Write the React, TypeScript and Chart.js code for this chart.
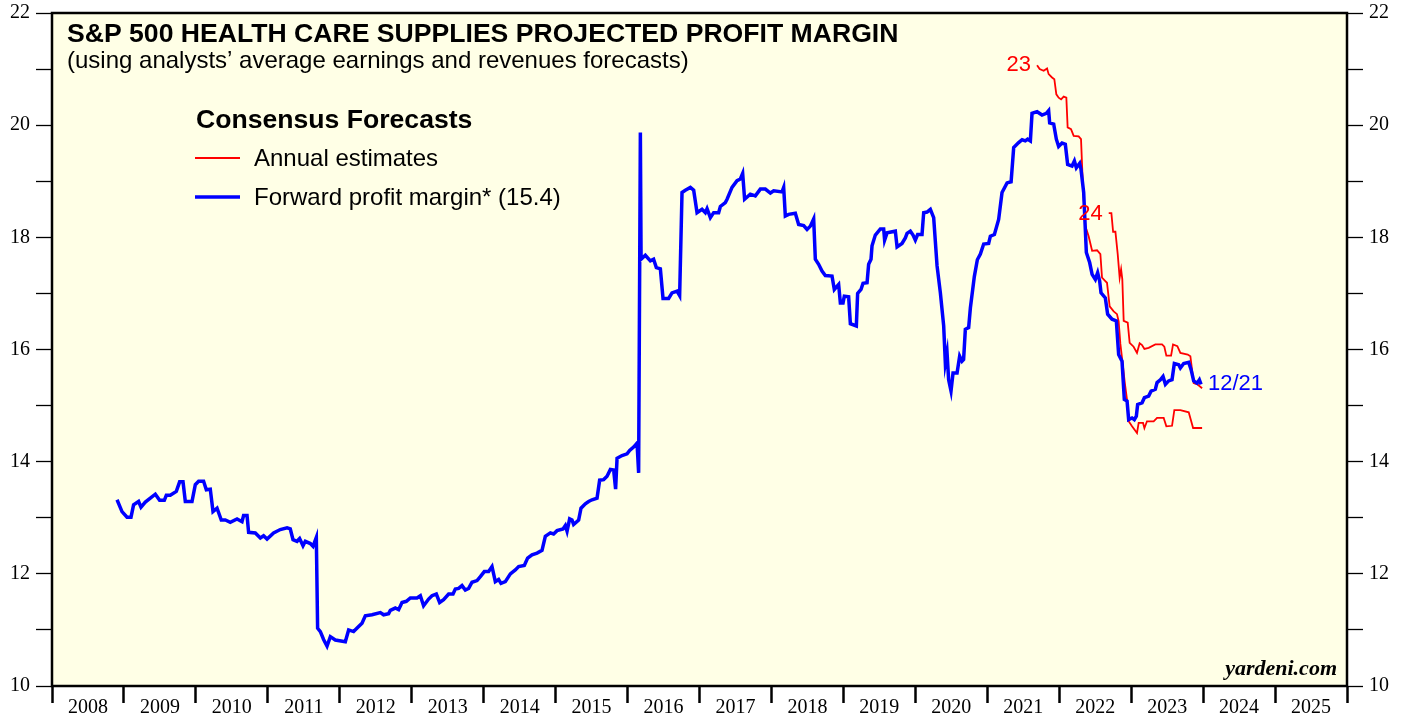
import React, { useEffect, useRef } from 'react';
import { Chart, registerables } from 'chart.js';

Chart.register(...registerables);

// Forward profit margin (weekly consensus), decimal years
const fwdDates = [2008.904, 2008.973, 2009.043, 2009.098, 2009.134, 2009.204, 2009.237, 2009.297, 2009.436, 2009.496,
  2009.561, 2009.589, 2009.644, 2009.728, 2009.774, 2009.821, 2009.853, 2009.946, 2009.992, 2010.038,
  2010.107, 2010.145, 2010.200, 2010.238, 2010.294, 2010.353, 2010.409, 2010.478, 2010.572, 2010.641,
  2010.663, 2010.711, 2010.733, 2010.826, 2010.896, 2010.941, 2010.989, 2011.080, 2011.173, 2011.267,
  2011.312, 2011.350, 2011.406, 2011.442, 2011.489, 2011.521, 2011.591, 2011.628, 2011.674, 2011.692,
  2011.730, 2011.775, 2011.823, 2011.869, 2011.938, 2012.077, 2012.123, 2012.192, 2012.262, 2012.309,
  2012.355, 2012.448, 2012.564, 2012.609, 2012.679, 2012.703, 2012.772, 2012.818, 2012.865, 2012.925,
  2012.981, 2013.074, 2013.120, 2013.165, 2013.235, 2013.282, 2013.342, 2013.388, 2013.443, 2013.513,
  2013.574, 2013.606, 2013.652, 2013.699, 2013.745, 2013.791, 2013.838, 2013.908, 2013.954, 2014.009,
  2014.069, 2014.116, 2014.162, 2014.208, 2014.241, 2014.301, 2014.371, 2014.440, 2014.486, 2014.565,
  2014.611, 2014.672, 2014.742, 2014.811, 2014.857, 2014.927, 2014.972, 2015.020, 2015.103, 2015.135,
  2015.159, 2015.195, 2015.228, 2015.250, 2015.320, 2015.353, 2015.413, 2015.459, 2015.506, 2015.576,
  2015.612, 2015.668, 2015.715, 2015.761, 2015.807, 2015.834, 2015.854, 2015.923, 2015.993, 2016.029,
  2016.084, 2016.132, 2016.154, 2016.178, 2016.188, 2016.247, 2016.317, 2016.362, 2016.400, 2016.456,
  2016.493, 2016.571, 2016.618, 2016.688, 2016.724, 2016.757, 2016.803, 2016.873, 2016.919, 2016.966,
  2017.035, 2017.081, 2017.105, 2017.151, 2017.197, 2017.266, 2017.290, 2017.359, 2017.383, 2017.452,
  2017.522, 2017.568, 2017.600, 2017.627, 2017.706, 2017.776, 2017.846, 2017.915, 2017.985, 2018.031,
  2018.147, 2018.170, 2018.193, 2018.239, 2018.332, 2018.378, 2018.448, 2018.495, 2018.541, 2018.587,
  2018.610, 2018.656, 2018.703, 2018.749, 2018.842, 2018.874, 2018.934, 2018.958, 2018.995, 2019.013,
  2019.073, 2019.097, 2019.180, 2019.198, 2019.245, 2019.273, 2019.329, 2019.351, 2019.384, 2019.398,
  2019.444, 2019.514, 2019.560, 2019.573, 2019.607, 2019.722, 2019.746, 2019.815, 2019.861, 2019.885,
  2019.931, 2019.968, 2020.000, 2020.032, 2020.093, 2020.116, 2020.163, 2020.209, 2020.255, 2020.302,
  2020.348, 2020.394, 2020.417, 2020.441, 2020.463, 2020.496, 2020.524, 2020.580, 2020.616, 2020.649,
  2020.671, 2020.695, 2020.741, 2020.765, 2020.820, 2020.862, 2020.904, 2020.950, 2021.019, 2021.043,
  2021.099, 2021.158, 2021.205, 2021.275, 2021.331, 2021.367, 2021.436, 2021.484, 2021.529, 2021.561,
  2021.599, 2021.622, 2021.692, 2021.761, 2021.821, 2021.853, 2021.867, 2021.923, 2021.960, 2021.992,
  2022.039, 2022.085, 2022.117, 2022.178, 2022.211, 2022.238, 2022.284, 2022.303, 2022.340, 2022.377,
  2022.423, 2022.457, 2022.502, 2022.534, 2022.562, 2022.581, 2022.641, 2022.673, 2022.734, 2022.794,
  2022.826, 2022.873, 2022.905, 2022.943, 2022.965, 2023.012, 2023.044, 2023.072, 2023.090, 2023.151,
  2023.184, 2023.243, 2023.277, 2023.336, 2023.360, 2023.406, 2023.443, 2023.476, 2023.521, 2023.568,
  2023.600, 2023.660, 2023.684, 2023.730, 2023.800, 2023.833, 2023.869, 2023.916, 2023.948, 2023.971];

const fwdValues = [13.32, 13.11, 13.01, 13.01, 13.23, 13.29, 13.19, 13.28, 13.42, 13.31,
  13.31, 13.40, 13.40, 13.47, 13.64, 13.64, 13.29, 13.29, 13.59, 13.65,
  13.65, 13.50, 13.51, 13.11, 13.17, 12.96, 12.96, 12.92, 12.98, 12.93,
  13.04, 13.04, 12.74, 12.73, 12.64, 12.68, 12.62, 12.73, 12.79, 12.82,
  12.80, 12.61, 12.58, 12.63, 12.50, 12.58, 12.54, 12.49, 12.65, 11.03,
  10.97, 10.83, 10.71, 10.88, 10.82, 10.79, 11.00, 10.97, 11.06, 11.12,
  11.25, 11.27, 11.31, 11.27, 11.29, 11.35, 11.39, 11.36, 11.49, 11.51,
  11.57, 11.57, 11.61, 11.43, 11.55, 11.61, 11.64, 11.49, 11.54, 11.64,
  11.64, 11.73, 11.74, 11.79, 11.71, 11.74, 11.85, 11.88, 11.95, 12.04,
  12.04, 12.13, 11.86, 11.90, 11.83, 11.86, 12.00, 12.07, 12.13, 12.15,
  12.28, 12.34, 12.37, 12.42, 12.67, 12.73, 12.71, 12.77, 12.80, 12.86,
  12.76, 12.98, 12.96, 12.88, 12.96, 13.17, 13.25, 13.29, 13.32, 13.35,
  13.67, 13.68, 13.74, 13.86, 13.85, 13.51, 14.06, 14.11, 14.14, 14.20,
  14.26, 14.33, 13.80, 19.87, 17.61, 17.68, 17.58, 17.61, 17.46, 17.44,
  16.91, 16.91, 17.01, 17.04, 16.96, 18.80, 18.84, 18.89, 18.84, 18.44,
  18.50, 18.44, 18.51, 18.35, 18.44, 18.44, 18.55, 18.62, 18.68, 18.89,
  19.01, 19.04, 19.14, 18.68, 18.77, 18.74, 18.86, 18.86, 18.79, 18.83,
  18.81, 18.89, 18.38, 18.41, 18.43, 18.23, 18.21, 18.14, 18.20, 18.33,
  17.61, 17.52, 17.40, 17.32, 17.31, 17.07, 17.16, 16.83, 16.83, 16.95,
  16.94, 16.46, 16.42, 17.00, 17.07, 17.18, 17.19, 17.52, 17.61, 17.85,
  18.04, 18.15, 18.15, 17.95, 18.08, 18.11, 17.83, 17.89, 17.99, 18.07,
  18.11, 18.04, 17.95, 18.05, 18.05, 18.44, 18.45, 18.50, 18.35, 17.49,
  17.01, 16.42, 15.76, 15.94, 15.46, 15.26, 15.58, 15.58, 15.88, 15.79,
  15.82, 16.36, 16.39, 16.74, 17.30, 17.60, 17.70, 17.88, 17.89, 18.02,
  18.05, 18.32, 18.80, 18.97, 18.99, 19.60, 19.69, 19.74, 19.72, 19.75,
  19.72, 20.21, 20.24, 20.18, 20.21, 20.26, 20.04, 20.02, 19.75, 19.62,
  19.68, 19.66, 19.30, 19.27, 19.36, 19.24, 19.32, 19.21, 18.80, 17.73,
  17.55, 17.34, 17.25, 17.37, 17.22, 17.01, 16.92, 16.63, 16.54, 16.51,
  15.91, 15.79, 15.11, 15.08, 14.75, 14.78, 14.75, 14.81, 15.02, 15.05,
  15.14, 15.17, 15.26, 15.29, 15.41, 15.46, 15.52, 15.38, 15.44, 15.46,
  15.75, 15.73, 15.67, 15.75, 15.77, 15.64, 15.44, 15.40, 15.46, 15.38];

// Annual estimates for 2023
const est23Dates = [2021.692, 2021.728, 2021.784, 2021.831, 2021.853, 2021.900, 2021.932, 2021.960, 2021.992, 2022.026,
  2022.062, 2022.099, 2022.117, 2022.164, 2022.201, 2022.270, 2022.303, 2022.331, 2022.363, 2022.409,
  2022.457, 2022.526, 2022.572, 2022.595, 2022.641, 2022.664, 2022.701, 2022.757, 2022.803, 2022.826,
  2022.850, 2022.877, 2022.912, 2022.943, 2022.965, 2023.012, 2023.081, 2023.104, 2023.165, 2023.184,
  2023.220, 2023.313, 2023.360, 2023.452, 2023.489, 2023.568, 2023.600, 2023.684, 2023.800, 2023.861,
  2023.986];
const est23Values = [21.07, 21.00, 20.97, 21.01, 20.91, 20.85, 20.82, 20.55, 20.49, 20.46,
  20.51, 20.49, 19.96, 19.93, 19.81, 19.80, 19.75, 18.86, 18.20, 18.02,
  17.76, 17.77, 17.70, 17.28, 17.22, 17.19, 16.77, 16.68, 16.63, 16.50,
  16.10, 15.80, 15.40, 15.10, 14.72, 14.63, 14.51, 14.69, 14.69, 14.60,
  14.72, 14.72, 14.78, 14.78, 14.63, 14.64, 14.92, 14.92, 14.88, 14.60,
  14.60];

// Annual estimates for 2024
const est24Dates = [2022.688, 2022.725, 2022.749, 2022.781, 2022.813, 2022.840, 2022.860, 2022.877, 2022.896, 2022.952,
  2022.979, 2023.034, 2023.081, 2023.118, 2023.151, 2023.184, 2023.243, 2023.336, 2023.429, 2023.461,
  2023.489, 2023.555, 2023.582, 2023.642, 2023.684, 2023.786, 2023.823, 2023.869, 2023.920, 2023.986];
const est24Values = [18.43, 18.43, 18.10, 18.10, 17.70, 17.28, 17.43, 17.25, 16.51, 16.48,
  16.12, 16.05, 15.94, 16.11, 16.08, 16.01, 16.03, 16.09, 16.09, 16.05,
  15.89, 15.89, 16.09, 16.06, 15.94, 15.91, 15.88, 15.40, 15.38, 15.31];

const yearStart = 2008;
const yearEnd = 2026;
const yMin = 10;
const yMax = 22;
const labelLast = '12/21';
const lastValueText = '15.4';

const SANS = "'Liberation Sans', Arial, sans-serif";
const SERIF = "'Liberation Serif', 'Times New Roman', serif";

function pts(xs: number[], ys: number[]) {
  return xs.map((x, i) => ({ x, y: ys[i] }));
}

export default function App() {
  const ref = useRef<HTMLCanvasElement>(null);

  useEffect(() => {
    document.body.style.margin = '0';
    const canvas = ref.current;
    if (!canvas) return;

    const decor = {
      id: 'decor',
      beforeDraw(chart: any) {
        const { ctx, chartArea: a } = chart;
        ctx.save();
        ctx.fillStyle = '#ffffff';
        ctx.fillRect(0, 0, chart.width, chart.height);
        ctx.fillStyle = '#FFFFE6';
        ctx.fillRect(a.left, a.top, a.right - a.left, a.bottom - a.top);
        ctx.restore();
      },
      afterDraw(chart: any) {
        const { ctx, chartArea: a, scales } = chart;
        const xs = scales.x;
        const ys = scales.y;
        ctx.save();
        ctx.strokeStyle = '#000';
        ctx.lineWidth = 2.5;
        ctx.strokeRect(a.left, a.top, a.right - a.left, a.bottom - a.top);

        ctx.fillStyle = '#000';
        ctx.textAlign = 'left';
        ctx.textBaseline = 'alphabetic';
        ctx.font = `bold 26.6px ${SANS}`;
        ctx.fillText('S&P 500 HEALTH CARE SUPPLIES PROJECTED PROFIT MARGIN', 67, 42);
        ctx.font = `24px ${SANS}`;
        ctx.fillText('(using analysts\u2019 average earnings and revenues forecasts)', 67, 68);

        ctx.font = `bold 26.6px ${SANS}`;
        ctx.fillText('Consensus Forecasts', 196, 128);
        ctx.font = `24px ${SANS}`;
        ctx.fillText('Annual estimates', 254, 166);
        ctx.fillText(`Forward profit margin* (${lastValueText})`, 254, 205);

        ctx.lineWidth = 2;
        ctx.strokeStyle = '#FF0000';
        ctx.beginPath();
        ctx.moveTo(195, 158);
        ctx.lineTo(240, 158);
        ctx.stroke();
        ctx.lineWidth = 3.5;
        ctx.strokeStyle = '#0000FF';
        ctx.beginPath();
        ctx.moveTo(195, 197);
        ctx.lineTo(240, 197);
        ctx.stroke();

        ctx.font = `22px ${SANS}`;
        ctx.textBaseline = 'middle';
        ctx.fillStyle = '#FF0000';
        ctx.textAlign = 'right';
        ctx.fillText('23', xs.getPixelForValue(est23Dates[0]) - 6, ys.getPixelForValue(est23Values[0]));
        ctx.fillText('24', xs.getPixelForValue(est24Dates[0]) - 6, ys.getPixelForValue(est24Values[0]) + 1);
        ctx.fillStyle = '#0000FF';
        ctx.textAlign = 'left';
        const li = fwdDates.length - 1;
        ctx.fillText(labelLast, xs.getPixelForValue(fwdDates[li]) + 7, ys.getPixelForValue(fwdValues[li]));

        ctx.fillStyle = '#000';
        ctx.textAlign = 'right';
        ctx.textBaseline = 'alphabetic';
        ctx.font = `italic bold 22px ${SERIF}`;
        ctx.fillText('yardeni.com', a.right - 10, a.bottom - 11);
        ctx.restore();
      },
    };

    const yAxis = (position: 'left' | 'right', width: number) => ({
      type: 'linear' as const,
      position,
      min: yMin,
      max: yMax,
      display: true,
      afterFit: (s: any) => {
        s.width = width;
        s.paddingTop = 0;
        s.paddingBottom = 0;
      },
      border: { display: false },
      grid: {
        drawOnChartArea: false,
        drawTicks: true,
        tickLength: 16,
        tickColor: '#000',
        tickWidth: 1.3,
      },
      ticks: {
        stepSize: 1,
        padding: 6,
        color: '#000',
        font: { family: SERIF, size: 20 },
        callback: (v: any) => (Number(v) % 2 === 0 ? String(v) : ''),
      },
    });

    const chart = new Chart(canvas, {
      type: 'line',
      data: {
        datasets: [
          {
            label: 'Forward profit margin',
            data: pts(fwdDates, fwdValues),
            borderColor: '#0000FF',
            borderWidth: 3.5,
            pointRadius: 0,
            tension: 0,
            yAxisID: 'y',
          },
          {
            label: '2023',
            data: pts(est23Dates, est23Values),
            borderColor: '#FF0000',
            borderWidth: 1.8,
            pointRadius: 0,
            tension: 0,
            yAxisID: 'y',
          },
          {
            label: '2024',
            data: pts(est24Dates, est24Values),
            borderColor: '#FF0000',
            borderWidth: 1.8,
            pointRadius: 0,
            tension: 0,
            yAxisID: 'y',
          },
        ],
      },
      options: {
        responsive: false,
        animation: false,
        events: [],
        layout: { padding: { top: 13, left: 0, right: 0, bottom: 0 } },
        plugins: { legend: { display: false }, tooltip: { enabled: false } },
        scales: {
          x: {
            type: 'linear',
            position: 'bottom',
            min: yearStart,
            max: yearEnd,
            afterFit: (s: any) => {
              s.height = 33;
              s.paddingLeft = 0;
              s.paddingRight = 0;
            },
            border: { display: false },
            grid: {
              drawOnChartArea: false,
              drawTicks: true,
              tickLength: 17,
              tickWidth: 2.5,
              tickColor: (c: any) => (c.tick && Number.isInteger(c.tick.value) ? '#000' : 'rgba(0,0,0,0)'),
            },
            ticks: {
              stepSize: 0.5,
              autoSkip: false,
              maxRotation: 0,
              minRotation: 0,
              padding: -7,
              color: '#000',
              font: { family: SERIF, size: 20 },
              callback: (v: any) => (Number.isInteger(Number(v)) ? '' : String(Math.floor(Number(v)))),
            },
          },
          y: yAxis('left', 52),
          y2: yAxis('right', 60),
        },
      } as any,
      plugins: [decor],
    });

    return () => chart.destroy();
  }, []);

  return (
    <div style={{ position: 'absolute', left: 0, top: 0, width: 1407, height: 719 }}>
      <canvas ref={ref} width={1407} height={719} style={{ width: 1407, height: 719, display: 'block' }} />
    </div>
  );
}
